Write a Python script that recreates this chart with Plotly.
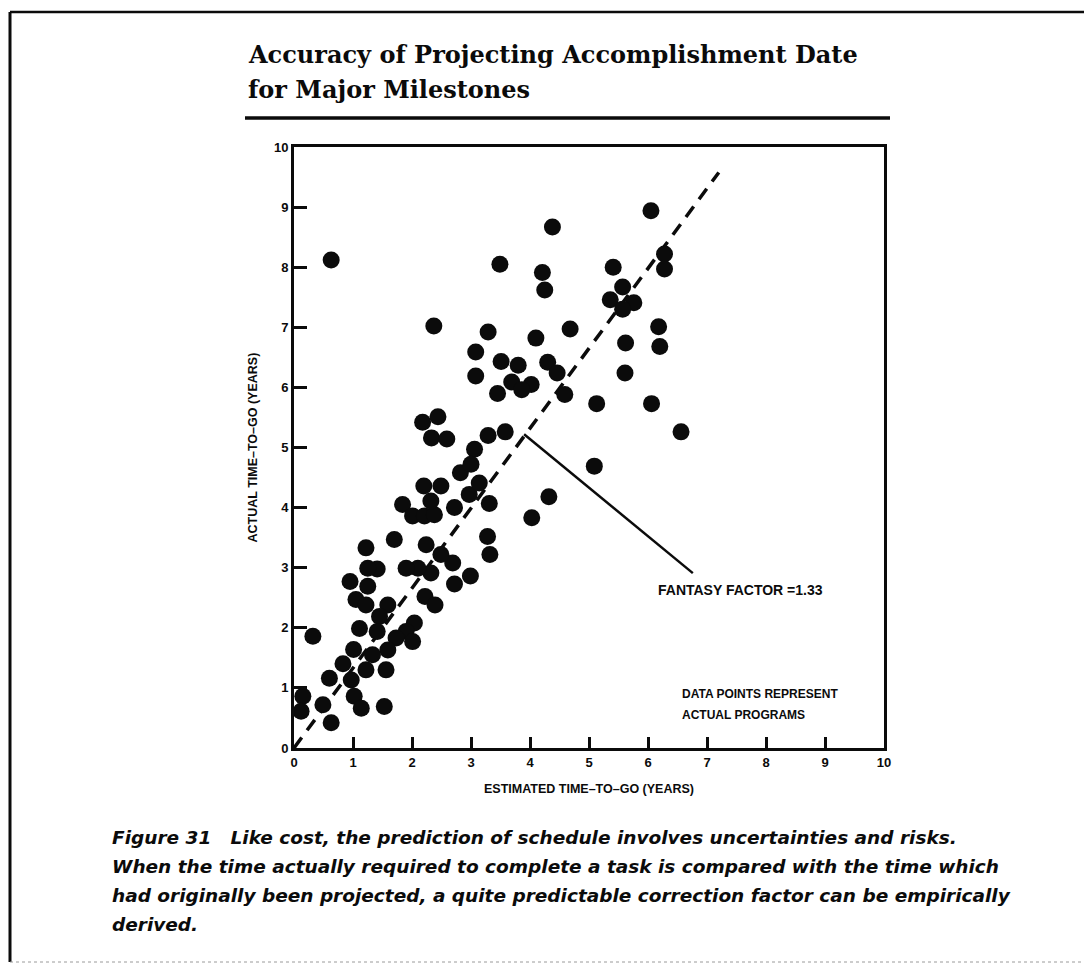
import plotly.graph_objects as go

# Estimated vs. actual time-to-go (years) for each program milestone
estimated = [
    0.63, 4.38, 3.49, 4.21, 4.25, 2.37, 3.29, 4.68, 4.10, 3.08, 3.51, 3.80, 4.30, 4.46,
    3.08, 3.69, 4.02, 3.86, 3.45, 4.59, 5.13, 2.18, 2.44, 2.33, 2.59, 3.29, 3.58, 3.06,
    6.05, 6.28, 6.28, 5.41, 5.57, 5.36, 5.76, 5.57, 6.18, 6.20, 5.62, 5.61, 6.06, 6.56,
    4.03, 4.32, 5.09, 3.31, 3.28, 3.32, 2.99, 2.72, 2.69, 2.49, 2.24, 2.32, 2.10, 1.90,
    2.22, 2.39, 1.70, 1.22, 1.41, 1.25, 0.95, 1.25, 1.05, 1.22, 1.59, 1.45, 1.41, 1.11,
    2.04, 1.90, 1.73, 2.01, 1.59, 1.33, 1.01, 0.83, 1.22, 1.56, 0.60, 0.97, 1.02, 1.14,
    1.53, 0.49, 0.63, 0.32, 0.15, 0.12, 1.84, 2.01, 2.21, 2.38, 2.32, 2.20, 2.49, 2.72,
    2.82, 3.00, 2.97, 3.14,
]
actual = [
    8.12, 8.67, 8.05, 7.91, 7.62, 7.02, 6.92, 6.97, 6.82, 6.59, 6.43, 6.37, 6.42, 6.24,
    6.19, 6.09, 6.05, 5.96, 5.90, 5.88, 5.73, 5.42, 5.51, 5.16, 5.14, 5.20, 5.26, 4.97,
    8.94, 8.22, 7.97, 8.00, 7.67, 7.46, 7.41, 7.30, 7.01, 6.68, 6.74, 6.24, 5.73, 5.26,
    3.83, 4.18, 4.69, 4.07, 3.52, 3.22, 2.86, 2.73, 3.08, 3.22, 3.38, 2.91, 2.99, 2.99,
    2.52, 2.38, 3.47, 3.33, 2.98, 2.99, 2.77, 2.69, 2.47, 2.38, 2.38, 2.19, 1.94, 1.99,
    2.08, 1.94, 1.83, 1.77, 1.63, 1.55, 1.64, 1.40, 1.30, 1.30, 1.16, 1.13, 0.86, 0.66,
    0.69, 0.72, 0.42, 1.86, 0.86, 0.61, 4.05, 3.86, 3.86, 3.88, 4.11, 4.36, 4.36, 4.00,
    4.58, 4.72, 4.22, 4.41,
]

# Trend line: actual = fantasy factor * estimated
fantasy_factor = 1.33
trend_x = [0.0, 7.2]
trend_y = [fantasy_factor * v for v in trend_x]

# Leader line from the trend line to its label
leader_x = [3.9, 6.76]
leader_y = [5.22, 2.91]

tick_vals = list(range(0, 11))
tick_text = [str(v) for v in tick_vals]

# Plot area in page pixels (used to place page-level text and rules)
W, H = 1084, 965
L, R, T, B = 294, 884, 147, 748


def px(x):
    return (x - L) / (R - L)


def py(y):
    return (B - y) / (B - T)


INK = "#0b0b0b"
SANS = "Liberation Sans"
tick_font = dict(family=SANS, size=13, color=INK, weight="bold")

fig = go.Figure()

fig.add_trace(go.Scatter(
    x=trend_x, y=trend_y, mode="lines",
    line=dict(color=INK, width=3.5, dash="13px,9px"),
    hoverinfo="skip", showlegend=False,
))
fig.add_trace(go.Scatter(
    x=leader_x, y=leader_y, mode="lines",
    line=dict(color=INK, width=2.5),
    hoverinfo="skip", showlegend=False,
))
fig.add_trace(go.Scatter(
    x=estimated, y=actual, mode="markers",
    marker=dict(size=17, color=INK, line=dict(width=0)),
    showlegend=False,
))

axis_common = dict(
    range=[0, 10], tickvals=tick_vals, ticktext=tick_text,
    showgrid=False, zeroline=False, showline=True, linecolor=INK, linewidth=3,
    mirror=True, ticks="inside", tickwidth=3, tickcolor=INK, tickfont=tick_font,
)
fig.update_xaxes(**axis_common, ticklen=11)
fig.update_yaxes(**axis_common, ticklen=13)

title_font = dict(family="DejaVu Serif", size=24, color=INK, weight="bold")
annotations = [
    dict(x=px(246), y=py(55), xref="paper", yref="paper", xanchor="left", yanchor="middle",
         text="Accuracy of Projecting Accomplishment Date", showarrow=False, font=title_font),
    dict(x=px(246), y=py(89), xref="paper", yref="paper", xanchor="left", yanchor="middle",
         text="for Major Milestones", showarrow=False, font=title_font),
    dict(x=0.5, y=py(789), xref="paper", yref="paper", xanchor="center", yanchor="middle",
         text="ESTIMATED TIME–TO–GO (YEARS)", showarrow=False,
         font=dict(family=SANS, size=12.5, color=INK, weight="bold")),
    dict(x=px(252), y=0.5, xref="paper", yref="paper", xanchor="center", yanchor="middle",
         text="ACTUAL TIME–TO–GO (YEARS)", textangle=-90, showarrow=False,
         font=dict(family=SANS, size=12.5, color=INK, weight="bold")),
    dict(x=7.56, y=2.63, xref="x", yref="y", xanchor="center", yanchor="middle",
         text=f"FANTASY FACTOR ={fantasy_factor}", showarrow=False,
         font=dict(family=SANS, size=14, color=INK, weight="bold")),
    dict(x=6.54, y=0.9, xref="x", yref="y", xanchor="left", yanchor="middle",
         text="DATA POINTS REPRESENT", showarrow=False,
         font=dict(family=SANS, size=12, color=INK, weight="bold")),
    dict(x=6.54, y=0.55, xref="x", yref="y", xanchor="left", yanchor="middle",
         text="ACTUAL PROGRAMS", showarrow=False,
         font=dict(family=SANS, size=12, color=INK, weight="bold")),
]

caption_lines = [
    "Figure 31   Like cost, the prediction of schedule involves uncertainties and risks.",
    "When the time actually required to complete a task is compared with the time which",
    "had originally been projected, a quite predictable correction factor can be empirically",
    "derived.",
]
caption_y = [837, 866, 895, 924]
for line, yy in zip(caption_lines, caption_y):
    annotations.append(dict(
        x=px(110), y=py(yy), xref="paper", yref="paper", xanchor="left", yanchor="middle",
        text=line, showarrow=False,
        font=dict(family="DejaVu Sans", size=18.5, color=INK, weight="bold", style="italic"),
    ))

shapes = [
    # rule under the heading
    dict(type="line", xref="paper", yref="paper", x0=px(245), x1=px(890), y0=py(118), y1=py(118),
         line=dict(color=INK, width=3.5)),
    # page frame
    dict(type="line", xref="paper", yref="paper", x0=px(10), x1=px(10), y0=py(12), y1=py(962),
         line=dict(color=INK, width=3)),
    dict(type="line", xref="paper", yref="paper", x0=px(10), x1=px(W), y0=py(12), y1=py(12),
         line=dict(color=INK, width=2.5)),
    dict(type="line", xref="paper", yref="paper", x0=px(10), x1=px(W), y0=py(962), y1=py(962),
         line=dict(color="#9a9a9a", width=1, dash="dot")),
]

fig.update_layout(
    width=W, height=H,
    margin=dict(l=L, r=W - R, t=T, b=H - B, pad=0),
    paper_bgcolor="white", plot_bgcolor="white",
    annotations=annotations, shapes=shapes,
    showlegend=False,
)

fig.write_html("out.html")
